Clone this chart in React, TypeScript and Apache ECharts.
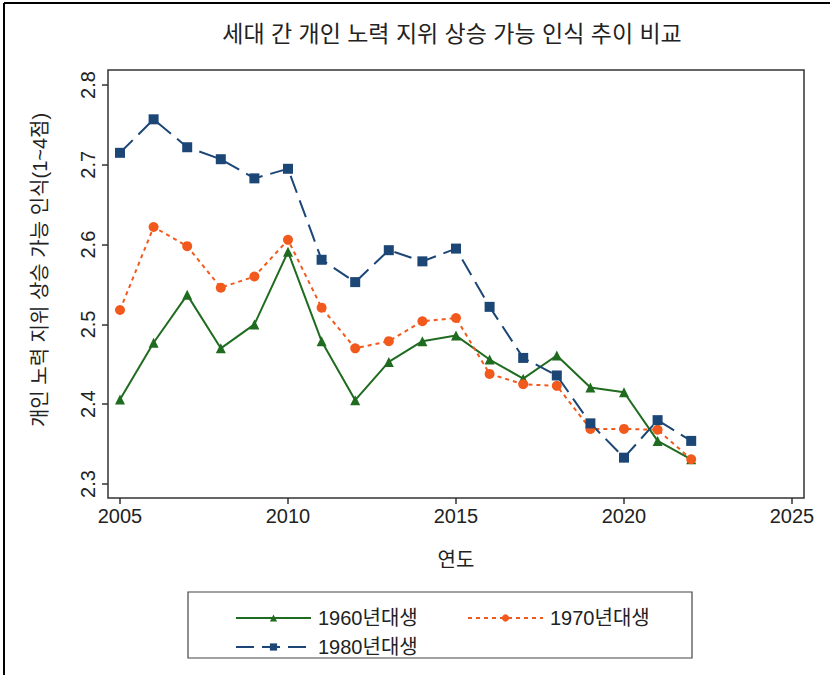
import React, { useEffect, useRef } from "react";
import * as echarts from "echarts";

const years = [2005, 2006, 2007, 2008, 2009, 2010, 2011, 2012, 2013, 2014, 2015, 2016, 2017, 2018, 2019, 2020, 2021, 2022];
const cohort1960 = [2.406, 2.477, 2.537, 2.470, 2.500, 2.591, 2.479, 2.405, 2.453, 2.479, 2.486, 2.456, 2.432, 2.461, 2.421, 2.415, 2.354, 2.331];
const cohort1970 = [2.518, 2.622, 2.598, 2.546, 2.560, 2.606, 2.521, 2.470, 2.479, 2.504, 2.508, 2.438, 2.425, 2.423, 2.369, 2.369, 2.368, 2.331];
const cohort1980 = [2.715, 2.757, 2.722, 2.707, 2.683, 2.695, 2.581, 2.553, 2.593, 2.579, 2.595, 2.522, 2.458, 2.436, 2.376, 2.333, 2.380, 2.354];
const seriesNames = ["1960년대생", "1970년대생", "1980년대생"];
const xTicks = [2005, 2010, 2015, 2020, 2025];
const yTicks = [2.3, 2.4, 2.5, 2.6, 2.7, 2.8];

const title = "세대 간 개인 노력 지위 상승 가능 인식 추이 비교";
const yTitle = "개인 노력 지위 상승 가능 인식(1~4점)";
const xTitle = "연도";

const FONT = "'Liberation Sans', 'Noto Sans CJK KR', sans-serif";
const GREEN = "#1f6b1f";
const ORANGE = "#f25a1d";
const BLUE = "#1b4676";

export default function App() {
  const ref = useRef<HTMLDivElement>(null);
  useEffect(() => {
    document.body.style.margin = "0";
    const chart = echarts.init(ref.current!, null, { renderer: "svg" });
    const pairs = (vals: number[]) => years.map((y, i) => [y, vals[i]]);
    const legendBase = {
      orient: "horizontal",
      itemWidth: 75,
      itemHeight: 9,
      textStyle: { fontFamily: FONT, fontSize: 20, color: "#222", padding: [0, 0, 0, 2] },
    };
    chart.setOption({
      animation: false,
      backgroundColor: "#fff",
      title: {
        text: title,
        left: 447,
        top: 17,
        textAlign: "center",
        textStyle: { fontFamily: FONT, fontSize: 23, fontWeight: "normal", color: "#222" },
      },
      grid: { left: 120, right: 38, top: 85, bottom: 191 },
      xAxis: {
        type: "value",
        min: xTicks[0],
        max: xTicks[xTicks.length - 1],
        interval: 5,
        offset: 14,
        axisLine: { show: false },
        axisTick: { show: true, length: 6, lineStyle: { color: "#333", width: 1.5 } },
        splitLine: { show: false },
        axisLabel: { fontFamily: FONT, fontSize: 20, color: "#222", margin: 8, formatter: (v: number) => String(v) },
        name: xTitle,
        nameLocation: "middle",
        nameGap: 52,
        nameTextStyle: { fontFamily: FONT, fontSize: 20, color: "#222" },
      },
      yAxis: {
        type: "value",
        min: yTicks[0],
        max: yTicks[yTicks.length - 1],
        interval: 0.1,
        offset: 12,
        axisLine: { show: false },
        axisTick: { show: true, length: 6, lineStyle: { color: "#333", width: 1.5 } },
        splitLine: { show: false },
        axisLabel: {
          fontFamily: FONT,
          fontSize: 20,
          color: "#222",
          rotate: 90,
          margin: 10,
          formatter: (v: number) => v.toFixed(1),
        },
      },
      legend: [
        { ...legendBase, data: [seriesNames[0]], left: 230, top: 603 },
        { ...legendBase, data: [seriesNames[1]], left: 462, top: 603 },
        { ...legendBase, data: [seriesNames[2]], left: 230, top: 632 },
      ],
      graphic: [
        { type: "rect", shape: { x: 108, y: 70, width: 696, height: 428 }, style: { fill: "none", stroke: "#333", lineWidth: 1.5 }, z: -1 },
        { type: "rect", shape: { x: 188, y: 592, width: 504, height: 66 }, style: { fill: "none", stroke: "#444", lineWidth: 1.2 } },
        { type: "line", shape: { x1: 4, y1: 3, x2: 830, y2: 3 }, style: { stroke: "#000", lineWidth: 2 } },
        { type: "line", shape: { x1: 4, y1: 3, x2: 4, y2: 675 }, style: { stroke: "#000", lineWidth: 2 } },
        {
          type: "text",
          x: 40,
          y: 270,
          rotation: Math.PI / 2,
          style: { text: yTitle, fontFamily: FONT, fontSize: 20, fill: "#222", textAlign: "center", textVerticalAlign: "middle" },
        },
      ],
      series: [
        {
          name: seriesNames[0],
          type: "line",
          data: pairs(cohort1960),
          symbol: "triangle",
          symbolSize: 10,
          itemStyle: { color: GREEN },
          lineStyle: { color: GREEN, width: 2, type: "solid" },
        },
        {
          name: seriesNames[1],
          type: "line",
          data: pairs(cohort1970),
          symbol: "circle",
          symbolSize: 10,
          itemStyle: { color: ORANGE },
          lineStyle: { color: ORANGE, width: 2, type: [4, 4] },
        },
        {
          name: seriesNames[2],
          type: "line",
          data: pairs(cohort1980),
          symbol: "rect",
          symbolSize: 10,
          itemStyle: { color: BLUE },
          lineStyle: { color: BLUE, width: 2, type: [18, 8] },
        },
      ],
    });
    return () => chart.dispose();
  }, []);
  return <div ref={ref} style={{ position: "absolute", left: 0, top: 0, width: 830, height: 675 }} />;
}
